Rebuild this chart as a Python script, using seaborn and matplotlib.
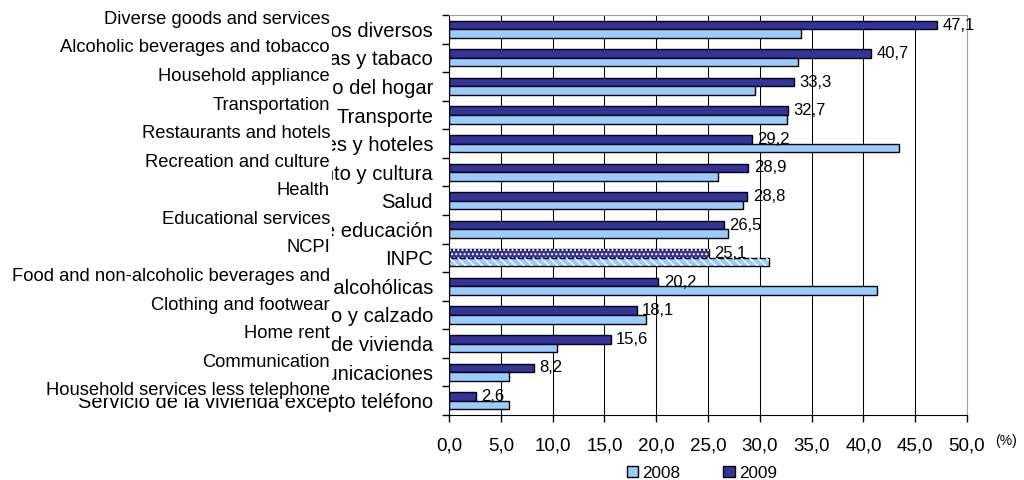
import numpy as np
import pandas as pd
import seaborn as sns
import matplotlib
matplotlib.use('Agg')
import matplotlib.pyplot as plt
import matplotlib.transforms as mtransforms
from matplotlib.patches import Patch, Rectangle

# category labels (spanish on the axis, english overlaid)
cats_es = ['Bienes y servicios diversos', 'Bebidas alcohólicas y tabaco',
           'Mobiliario y equipo del hogar', 'Transporte', 'Restaurantes y hoteles',
           'Esparcimiento y cultura', 'Salud', 'Servicios de educación', 'INPC',
           'Alimentos y bebidas no alcohólicas', 'Vestido y calzado',
           'Arrendamiento de vivienda', 'Comunicaciones',
           'Servicio de la vivienda excepto teléfono']
cats_en = ['Diverse goods and services', 'Alcoholic beverages and tobacco',
           'Household appliance', 'Transportation', 'Restaurants and hotels',
           'Recreation and culture', 'Health', 'Educational services', 'NCPI',
           'Food and non-alcoholic beverages and', 'Clothing and footwear',
           'Home rent', 'Communication', 'Household services less telephone']

v2008 = [34.0, 33.7, 29.5, 32.6, 43.4, 26.0, 28.4, 26.9, 30.9, 41.3, 19.0, 10.4, 5.8, 5.8]
v2009 = [47.1, 40.7, 33.3, 32.7, 29.2, 28.9, 28.8, 26.5, 25.1, 20.2, 18.1, 15.6, 8.2, 2.6]
years = ['2008', '2009']
colors = {'2008': '#99CCFF', '2009': '#333399'}
xticks = list(range(0, 51, 5))

df = pd.DataFrame({
    'cat': cats_es * 2,
    'year': ['2009'] * len(cats_es) + ['2008'] * len(cats_es),
    'val': v2009 + v2008,
})

sns.set_style('white')
plt.rcParams['font.family'] = ['Liberation Sans', 'DejaVu Sans']
plt.rcParams['text.color'] = 'black'
plt.rcParams['xtick.color'] = 'black'
plt.rcParams['ytick.color'] = 'black'
plt.rcParams['hatch.linewidth'] = 1.0

fig, ax = plt.subplots(figsize=(10.24, 4.8), dpi=100)
fig.subplots_adjust(left=449 / 1024, right=967 / 1024, top=1 - 15 / 480, bottom=1 - 415 / 480)

sns.barplot(data=df, y='cat', x='val', hue='year', hue_order=['2009', '2008'],
            palette=colors, orient='h', width=0.6, gap=0, saturation=1,
            edgecolor='black', linewidth=1, errorbar=None, legend=False, ax=ax)

# hatch the INPC row
for p in list(ax.patches):
    yc = p.get_y() + p.get_height() / 2
    if abs(yc - cats_es.index('INPC')) < 0.5:
        dark = yc < cats_es.index('INPC')
        ax.add_patch(Rectangle((p.get_x(), p.get_y()), p.get_width(), p.get_height(),
                               facecolor='none', edgecolor='white', linewidth=0,
                               hatch='....' if dark else '\\\\\\\\', zorder=p.get_zorder() + 0.1))

# value labels on 2009 bars
for c in ax.containers:
    if np.allclose(c.datavalues, v2009):
        ax.bar_label(c, labels=[f'{v:.1f}'.replace('.', ',') for v in v2009],
                     padding=4, fontsize=12)

ax.set_xlim(0, 50)
ax.set_ylim(len(cats_es) - 0.5, -0.5)
ax.set_xticks(xticks)
ax.set_xticklabels([f'{t:.1f}'.replace('.', ',') for t in xticks])
ax.set_yticks(range(len(cats_es)))
ax.set_yticklabels(cats_es)
ax.set_yticks(np.arange(-0.5, len(cats_es), 1), minor=True)
ax.tick_params(axis='y', which='major', length=0, pad=11.5, labelsize=14.5)
ax.tick_params(axis='y', which='minor', length=5, width=1, direction='out', left=True)
ax.tick_params(axis='x', length=5, width=1, direction='out', bottom=True, pad=11, labelsize=13.5)
ax.set_xlabel('')
ax.set_ylabel('')
ax.xaxis.grid(True, color='black', linewidth=0.75)
ax.set_axisbelow(True)
for s in ['left', 'bottom']:
    ax.spines[s].set_color('black')
for s in ['top', 'right']:
    ax.spines[s].set_color('#A0A0A0')

# white box hiding left part of spanish labels, english labels on top
fig.add_artist(Rectangle((0, 1 - 398 / 480), 332 / 1024, 398 / 480,
                         transform=fig.transFigure, facecolor='white',
                         edgecolor='none', zorder=5))
trans = mtransforms.blended_transform_factory(fig.transFigure, ax.transData)
for i, lab in enumerate(cats_en):
    fig.text(330 / 1024, i - 0.35, lab, transform=trans, ha='right', va='center',
             fontsize=13.2, zorder=6)

fig.text(995 / 1024, 1 - 441 / 480, '(%)', fontsize=10, va='center')

handles = [Patch(facecolor=colors[y], edgecolor='black', label=y) for y in years]
fig.legend(handles=handles, loc='center', bbox_to_anchor=(702 / 1024, 1 - 473 / 480), ncol=2,
           frameon=False, fontsize=12.3, handlelength=0.65, handleheight=0.65,
           columnspacing=2.5, handletextpad=0.25, borderpad=0, borderaxespad=0)

fig.savefig('out.png', dpi=100)
